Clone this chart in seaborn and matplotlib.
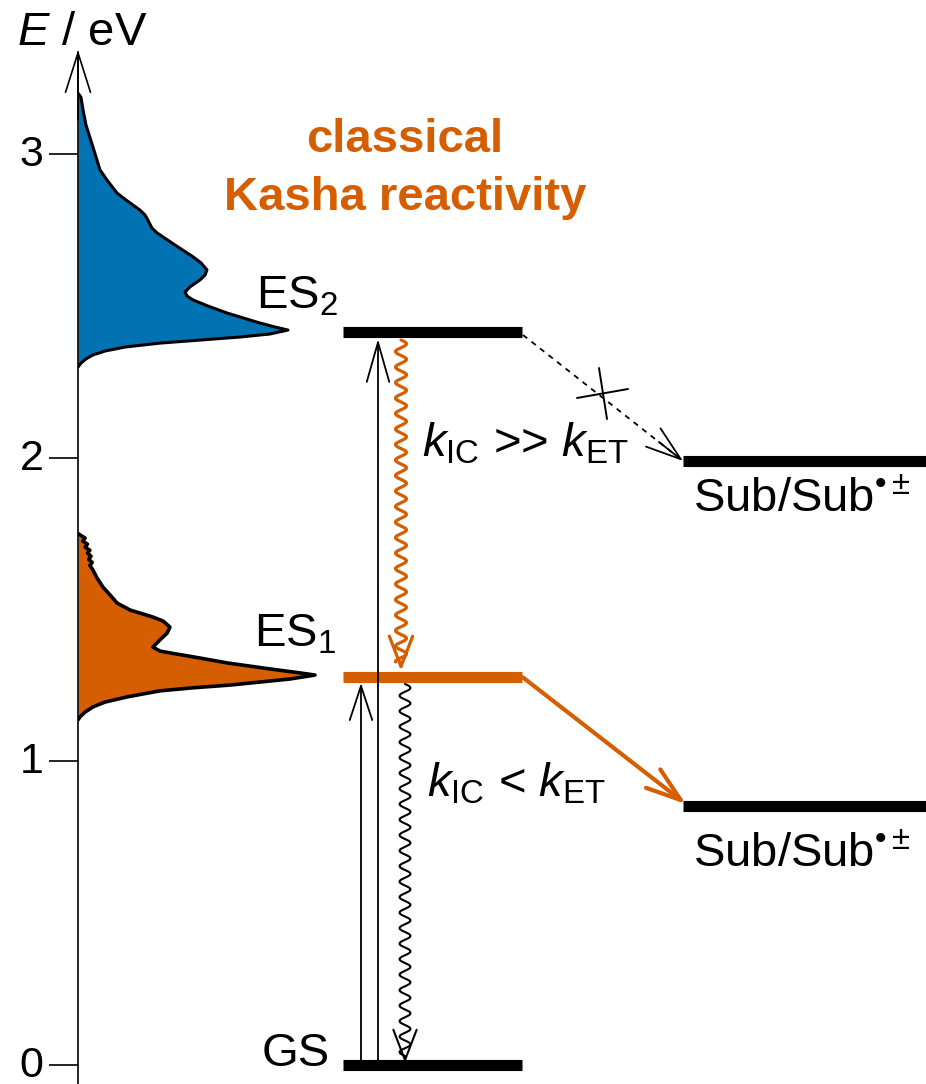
import numpy as np
import matplotlib
matplotlib.use("Agg")
import matplotlib.pyplot as plt
from matplotlib.transforms import ScaledTranslation
import seaborn as sns

# energy levels (eV)
levels = {"GS": 0.0, "ES1": 1.276, "ES2": 2.412}
sub_levels = [1.989, 0.854]

# spectra: energy (eV) and normalised intensity
blue_E = [3.20, 3.187, 3.145, 3.095, 3.023, 2.980, 2.947, 2.914, 2.871, 2.848, 2.815,
          2.799, 2.782, 2.756, 2.740, 2.700, 2.661, 2.641, 2.618, 2.601, 2.585, 2.562,
          2.545, 2.532, 2.519, 2.499, 2.476, 2.460, 2.443, 2.430, 2.420, 2.407, 2.397,
          2.387, 2.377, 2.364, 2.351, 2.338, 2.325, 2.311, 2.298]
blue_I = [0.0, 0.014, 0.024, 0.038, 0.071, 0.090, 0.105, 0.138, 0.186, 0.229, 0.295,
          0.319, 0.333, 0.352, 0.376, 0.462, 0.548, 0.586, 0.614, 0.605, 0.581, 0.533,
          0.510, 0.519, 0.548, 0.619, 0.710, 0.786, 0.867, 0.938, 1.0, 0.914, 0.771,
          0.581, 0.390, 0.224, 0.129, 0.071, 0.038, 0.014, 0.0]

orange_E = [1.75, 1.745, 1.735, 1.725, 1.715, 1.705, 1.695, 1.686, 1.675, 1.665, 1.655,
            1.645, 1.630, 1.604, 1.574, 1.548, 1.521, 1.498, 1.475, 1.462, 1.442, 1.422,
            1.400, 1.376, 1.363, 1.357, 1.340, 1.324, 1.311, 1.301, 1.291, 1.284, 1.271,
            1.261, 1.251, 1.242, 1.232, 1.212, 1.195, 1.179, 1.162, 1.146, 1.136]
orange_I = [0.0, 0.01, 0.03, 0.02, 0.04, 0.03, 0.05, 0.04, 0.055, 0.045, 0.06,
            0.05, 0.063, 0.080, 0.105, 0.135, 0.165, 0.220, 0.316, 0.359, 0.388, 0.376,
            0.346, 0.316, 0.346, 0.388, 0.515, 0.629, 0.747, 0.840, 0.937, 1.0, 0.895,
            0.768, 0.641, 0.485, 0.346, 0.207, 0.114, 0.063, 0.030, 0.008, 0.0]

yticks = [0, 1, 2, 3]

pal = sns.color_palette("colorblind")
blue = pal[0]
orange = pal[3]

sns.set_theme(style="white")
plt.rcParams["font.family"] = ["Liberation Sans", "DejaVu Sans"]
plt.rcParams["text.color"] = "black"
plt.rcParams["mathtext.fontset"] = "custom"
plt.rcParams["mathtext.rm"] = "Liberation Sans"
plt.rcParams["mathtext.it"] = "Liberation Sans:italic"
plt.rcParams["mathtext.bf"] = "Liberation Sans:bold"


def e(ypx):
    # pixel row -> energy, used only for placing things
    return (1065 - ypx) / 303.7


fig = plt.figure(figsize=(9.26, 10.84), dpi=100)
ax = fig.add_axes([78 / 926, 0, 848 / 926, 1])
ax.set_xlim(78, 926)
ax.set_ylim(e(1084), e(0))

# axis
for s in ["top", "right", "bottom"]:
    ax.spines[s].set_visible(False)
ax.spines["left"].set_linewidth(1.2)
ax.spines["left"].set_color("black")
ax.spines["left"].set_bounds(e(1084), e(52))
ax.set_xticks([])
ax.set_yticks(yticks)
ax.tick_params(axis="y", length=21, width=1.2, labelsize=31, pad=4, colors="black",
               left=True)
for lbl in ax.get_yticklabels():
    lbl.set_transform(lbl.get_transform() + ScaledTranslation(0, 0.035, fig.dpi_scale_trans))
ax.annotate("", xy=(78, e(50)), xytext=(78, e(120)), annotation_clip=False,
            arrowprops=dict(arrowstyle="->,head_length=0.95,head_width=0.3",
                            lw=1.2, color="black", mutation_scale=30,
                            shrinkA=0, shrinkB=0))
ax.text(17, e(45), r"$\mathit{E}$ / eV", fontsize=34, ha="left", va="baseline")

# spectra
x0 = 78
bx = x0 + np.array(blue_I) * 210
ox = x0 + np.array(orange_I) * 237
ax.fill_betweenx(blue_E, x0, bx, color=blue, lw=0)
ax.fill_betweenx(orange_E, x0, ox, color=orange, lw=0)
sns.lineplot(x=bx, y=blue_E, sort=False, estimator=None, color="black", lw=2.2, ax=ax)
sns.lineplot(x=ox, y=orange_E, sort=False, estimator=None, color="black", lw=2.6, ax=ax)

# levels
ax.plot([343, 522], [levels["ES2"]] * 2, color="black", lw=8, solid_capstyle="butt")
ax.plot([343, 522], [levels["ES1"]] * 2, color=orange, lw=8, solid_capstyle="butt")
ax.plot([343, 522], [levels["GS"]] * 2, color="black", lw=8, solid_capstyle="butt")
for lv in sub_levels:
    ax.plot([683, 926], [lv, lv], color="black", lw=8, solid_capstyle="butt")

# excitation arrows
ax.annotate("", xy=(378, e(339)), xytext=(378, levels["GS"]),
            arrowprops=dict(arrowstyle="->,head_length=0.95,head_width=0.27",
                            lw=1.3, color="black", mutation_scale=30,
                            shrinkA=0, shrinkB=0))
ax.annotate("", xy=(361, e(683)), xytext=(361, levels["GS"]),
            arrowprops=dict(arrowstyle="->,head_length=0.82,head_width=0.27",
                            lw=1.3, color="black", mutation_scale=30,
                            shrinkA=0, shrinkB=0))


def wavy(xc, y_top, y_bot, color, lw, tip):
    ypx = np.linspace(y_top, y_bot, 400)
    xpx = xc + 5.5 * np.sin(2 * np.pi * (ypx - y_top) / 15.5)
    ax.plot(xpx, e(ypx), color=color, lw=lw)
    ax.annotate("", xy=(xc, e(tip)), xytext=(xc, e(y_bot)),
                arrowprops=dict(arrowstyle="->,head_length=0.78,head_width=0.3",
                                lw=lw, color=color, mutation_scale=28,
                                shrinkA=0, shrinkB=0))


# internal conversion
wavy(401, 340, 662, orange, 2.3, 671)
wavy(405, 684, 1056, "black", 1.5, 1063)

# electron transfer (blocked, dashed)
ax.plot([523, 683], [e(335), sub_levels[0]], color="black", lw=1.3, ls=(0, (3, 3)))
ax.annotate("", xy=(683, sub_levels[0]), xytext=(659, e(442)),
            arrowprops=dict(arrowstyle="->,head_length=0.9,head_width=0.3",
                            lw=1.3, color="black", mutation_scale=28,
                            shrinkA=0, shrinkB=0))
ax.plot([577, 628], [e(398), e(389)], color="black", lw=1.4)
ax.plot([599, 607], [e(368), e(419)], color="black", lw=1.4)
ax.annotate("", xy=(686, sub_levels[1] + 0.005), xytext=(523, levels["ES1"]),
            arrowprops=dict(arrowstyle="->,head_length=0.9,head_width=0.3",
                            lw=3, color=orange, mutation_scale=28,
                            shrinkA=0, shrinkB=0))

# labels
fs = 34
sub_lbl = r"Sub/Sub$^{\mathrm{•}\pm}$"
ax.text(256, e(308), r"ES$_2$", fontsize=fs, va="baseline")
ax.text(254, e(647), r"ES$_1$", fontsize=fs, va="baseline")
ax.text(262, e(1066), "GS", fontsize=fs, va="baseline")
ax.text(693, e(512), sub_lbl, fontsize=fs, va="baseline")
ax.text(693, e(867), sub_lbl, fontsize=fs, va="baseline")
ax.text(422, e(457), r"$\mathit{k}_{\mathrm{IC}}$ >> $\mathit{k}_{\mathrm{ET}}$",
        fontsize=fs, va="baseline")
ax.text(427, e(797), r"$\mathit{k}_{\mathrm{IC}}$ < $\mathit{k}_{\mathrm{ET}}$",
        fontsize=fs, va="baseline")
ax.text(405, e(152), "classical", fontsize=34, fontweight="bold", color=orange,
        ha="center", va="baseline")
ax.text(405, e(210), "Kasha reactivity", fontsize=34, fontweight="bold", color=orange,
        ha="center", va="baseline")

fig.savefig("out.png", dpi=100)
